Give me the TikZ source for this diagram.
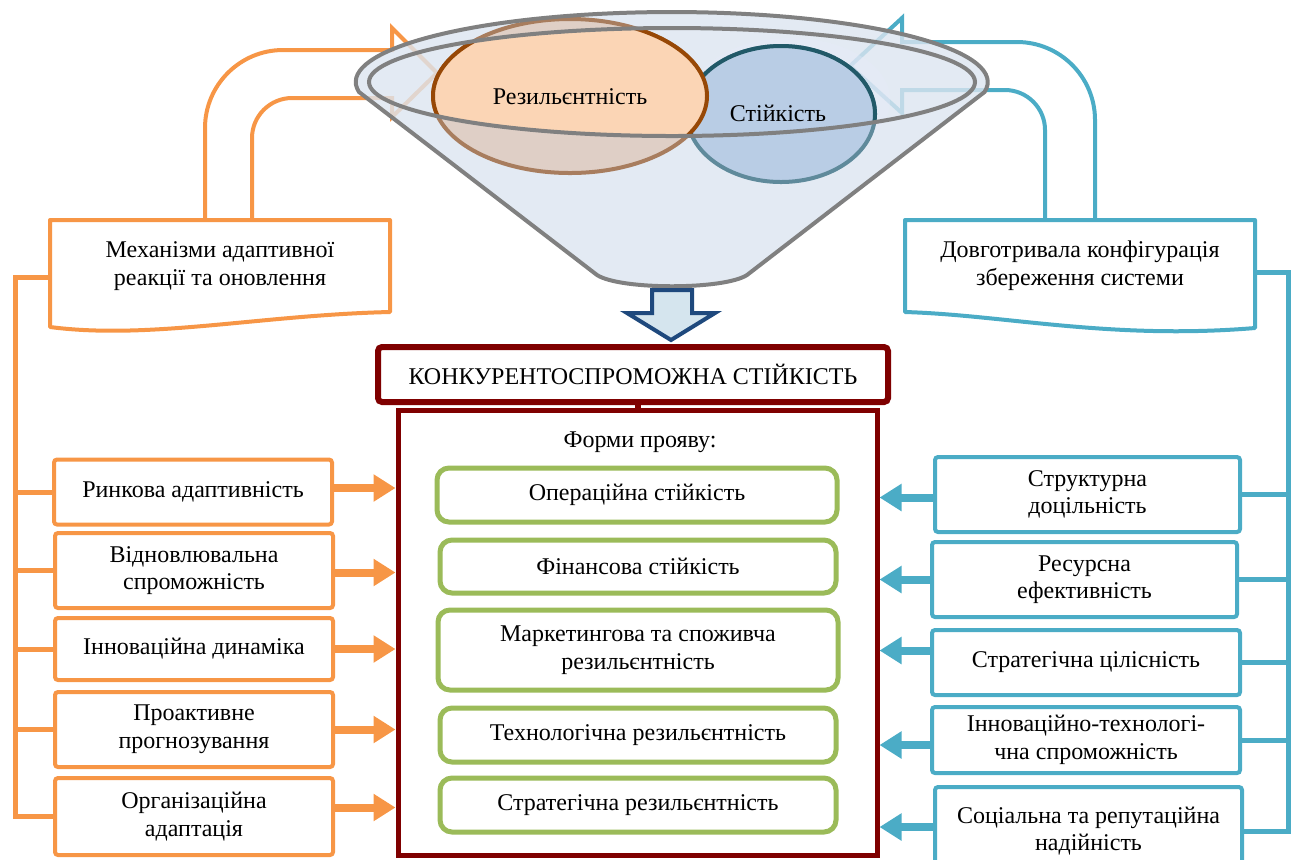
\documentclass[tikz,border=0pt]{standalone}
\usepackage{fontspec}
\setmainfont{Liberation Serif}
\usetikzlibrary{arrows.meta}
\definecolor{orn}{HTML}{F79646}
\definecolor{blu}{HTML}{4BACC6}
\definecolor{grn}{HTML}{9BBB59}
\definecolor{dred}{HTML}{7F0000}
\definecolor{fgrey}{HTML}{808080}
\definecolor{ffill}{HTML}{DCE5F0}
\definecolor{resfill}{HTML}{FBD5B5}
\definecolor{resfillm}{HTML}{DFCFC6}
\definecolor{resdraw}{HTML}{974806}
\definecolor{resdrawm}{HTML}{A87D5E}
\definecolor{stfill}{HTML}{B9CDE5}
\definecolor{stdraw}{HTML}{215968}
\definecolor{stdrawm}{HTML}{5F8A9B}
\definecolor{darrfill}{HTML}{D5E5EE}
\definecolor{darrdraw}{HTML}{1F497D}
\tikzset{
  obox/.style={draw=orn, line width=2pt, fill=white, align=center, inner sep=0pt, rounded corners=1.5pt},
  bbox/.style={draw=blu, line width=2pt, fill=white, align=center, inner sep=0pt, rounded corners=1.5pt},
  gbox/.style={draw=grn, line width=2.5pt, fill=white, align=center, inner sep=0pt, rounded corners=6pt},
  oarr/.style={draw=orn, line width=4pt, -{Triangle[length=11pt,width=13pt]}},
  barr/.style={draw=blu, line width=4pt, -{Triangle[length=11pt,width=13pt]}},
  obr/.style={draw=orn, line width=2.5pt},
  bbr/.style={draw=blu, line width=2.5pt},
  pipe/.style={line width=2pt, line join=miter},
}
\begin{document}
\begin{tikzpicture}[x=0.5pt,y=-0.5pt, font=\fontsize{12}{13.8}\selectfont]
\useasboundingbox (0,0) rectangle (1293,859);
\clip (0,0) rectangle (1293,859);

% bent pipe arrows
\draw[pipe, orn] (205,220) -- (205,128) .. controls (205,85) and (240,50) .. (283,50) -- (392,50) -- (392,28) -- (437,73) -- (392,117) -- (392,98) -- (292,98) .. controls (270,98) and (252,116) .. (252,138) -- (252,220);
\draw[pipe, blu] (1095,220) -- (1095,120) .. controls (1095,77) and (1060,42) .. (1017,42) -- (902,42) -- (902,18) -- (850,66) -- (902,113) -- (902,90) -- (1005,90) .. controls (1027,90) and (1045,108) .. (1045,130) -- (1045,220);

% funnel body
\fill[ffill, opacity=0.8] (359,92) arc[start angle=171.8, end angle=368.2, x radius=316, y radius=70] -- (747,275) .. controls (724,290) and (620,290) .. (597,275) -- cycle;
\fill[ffill!80!blue!30!white, opacity=0.35] (790,100) ellipse[x radius=100, y radius=62];

% circles (muted everywhere)
\draw[fill=stfill, draw=stdrawm, line width=2pt] (781,114) ellipse[x radius=94, y radius=68];
\draw[fill=resfillm, draw=resdrawm, line width=2pt] (570,96) ellipse[x radius=137, y radius=77];
% vivid inside the rim
\begin{scope}
\clip (672,82) ellipse[x radius=303, y radius=54];
\draw[fill=stfill, draw=stdraw, line width=2pt] (781,114) ellipse[x radius=94, y radius=68];
\draw[fill=resfill, draw=resdraw, line width=2pt] (570,96) ellipse[x radius=137, y radius=77];
\end{scope}

% funnel outline
\draw[fgrey, line width=2pt, line join=round] (359,92) arc[start angle=171.8, end angle=368.2, x radius=316, y radius=70] -- (747,275) .. controls (724,290) and (620,290) .. (597,275) -- cycle;
\draw[fgrey, line width=2pt] (672,82) ellipse[x radius=303, y radius=54];

\node (res) at (570,97) {Резильєнтність};
\node (sti) at (778,113) {Стійкість};

% down arrow
\draw[fill=darrfill, draw=darrdraw, line width=2pt, line join=miter] (652,290) -- (692,290) -- (692,313) -- (715,313) -- (671,340) -- (627,313) -- (652,313) -- cycle;

% wave boxes
\draw[orn, line width=2pt, fill=white, line join=round] (50,220) -- (390,220) -- (390,312) .. controls (260,315) and (150,340) .. (50,327) -- cycle;
\draw[blu, line width=2pt, fill=white, line join=round] (905,220) -- (1255,220) -- (1255,328) .. controls (1110,340) and (1005,315) .. (905,312) -- cycle;
\node[align=center, minimum width=170pt, minimum height=46pt, inner sep=0pt] (mech) at (220,266) {Механізми адаптивної\\реакції та оновлення};
\node[align=center, minimum width=175pt, minimum height=46pt, inner sep=0pt] (conf) at (1080,266) {Довготривала конфігурація\\збереження системи};

% central boxes
\node[draw=dred, line width=3pt, rounded corners=2pt, fill=white, minimum width=255pt, minimum height=27.5pt, inner sep=0pt] (title) at (633,374.5) {КОНКУРЕНТОСПРОМОЖНА СТІЙКІСТЬ};
\node[draw=dred, line width=2.5pt, fill=white, minimum width=239.5pt, minimum height=222.5pt, inner sep=0pt] (form) at (637.5,632.5) {};
\draw[dred, line width=3pt] (form.north) -- (form.north |- title.south);
\node (forms) at (640,442) {Форми прояву:};

\node[gbox, minimum width=200pt, minimum height=27pt] (g1) at (637,495) {Операційна стійкість};
\node[gbox, minimum width=198pt, minimum height=26.5pt] (g2) at (638,566.5) {Фінансова стійкість};
\node[gbox, minimum width=200pt, minimum height=40pt] (g3) at (638,650) {Маркетингова та споживча\\резильєнтність};
\node[gbox, minimum width=198pt, minimum height=27pt] (g4) at (638,735) {Технологічна резильєнтність};
\node[gbox, minimum width=198pt, minimum height=27pt] (g5) at (638,805) {Стратегічна резильєнтність};

% left boxes
\node[obox, minimum width=139pt, minimum height=32.5pt] (l1) at (193,492) {Ринкова адаптивність};
\node[obox, minimum width=139pt, minimum height=37.5pt] (l2) at (194,570.5) {Відновлювальна\\спроможність};
\node[obox, minimum width=139pt, minimum height=31pt] (l3) at (194,649) {Інноваційна динаміка};
\node[obox, minimum width=139pt, minimum height=37.5pt] (l4) at (194,729.5) {Проактивне\\прогнозування};
\node[obox, minimum width=139pt, minimum height=38.5pt] (l5) at (194,816.5) {Організаційна\\адаптація};

% right boxes
\node[bbox, minimum width=152.5pt, minimum height=37.5pt] (r1) at (1087.5,494.5) {Структурна\\доцільність};
\node[bbox, minimum width=152.5pt, minimum height=37.5pt] (r2) at (1084.5,579.5) {Ресурсна\\ефективність};
\node[bbox, minimum width=154pt, minimum height=32.5pt] (r3) at (1086,662.5) {Стратегічна цілісність};
\node[bbox, minimum width=154pt, minimum height=33pt] (r4) at (1086,740) {Інноваційно-технологі-\\чна спроможність};
\node[bbox, minimum width=153.5pt, minimum height=44pt] (r5) at (1088.5,831) {Соціальна та репутаційна\\надійність};

% left bracket
\coordinate (lb) at (15,277);
\draw[obr] (mech.west |- lb) -- (lb) -- (lb |- l5) -- (l5.west);
\foreach \b in {l1,l2,l3,l4} \draw[obr] (lb |- \b) -- (\b.west);

% right bracket
\coordinate (rb) at (1288,272);
\draw[bbr] (conf.east |- rb) -- (rb) -- (rb |- r5) -- (r5.east);
\foreach \b in {r1,r2,r3,r4} \draw[bbr] (rb |- \b) -- (\b.east);

% arrows into forms box
\draw[oarr] ([yshift=2pt]l1.east) -- ([yshift=2pt]l1.east -| form.west);
\draw[oarr] ([yshift=-1pt]l2.east) -- ([yshift=-1pt]l2.east -| form.west);
\draw[oarr] (l3.east) -- (l3.east -| form.west);
\draw[oarr] (l4.east) -- (l4.east -| form.west);
\draw[oarr] ([yshift=4.5pt]l5.east) -- ([yshift=4.5pt]l5.east -| form.west);

\draw[barr] ([yshift=-1.5pt]r1.west) -- ([yshift=-1.5pt]r1.west -| form.east);
\draw[barr] (r2.west) -- (r2.west -| form.east);
\draw[barr] ([yshift=6pt]r3.west) -- ([yshift=6pt]r3.west -| form.east);
\draw[barr] ([yshift=-2.5pt]r4.west) -- ([yshift=-2.5pt]r4.west -| form.east);
\draw[barr] ([yshift=2pt]r5.west) -- ([yshift=2pt]r5.west -| form.east);
\end{tikzpicture}
\end{document}
